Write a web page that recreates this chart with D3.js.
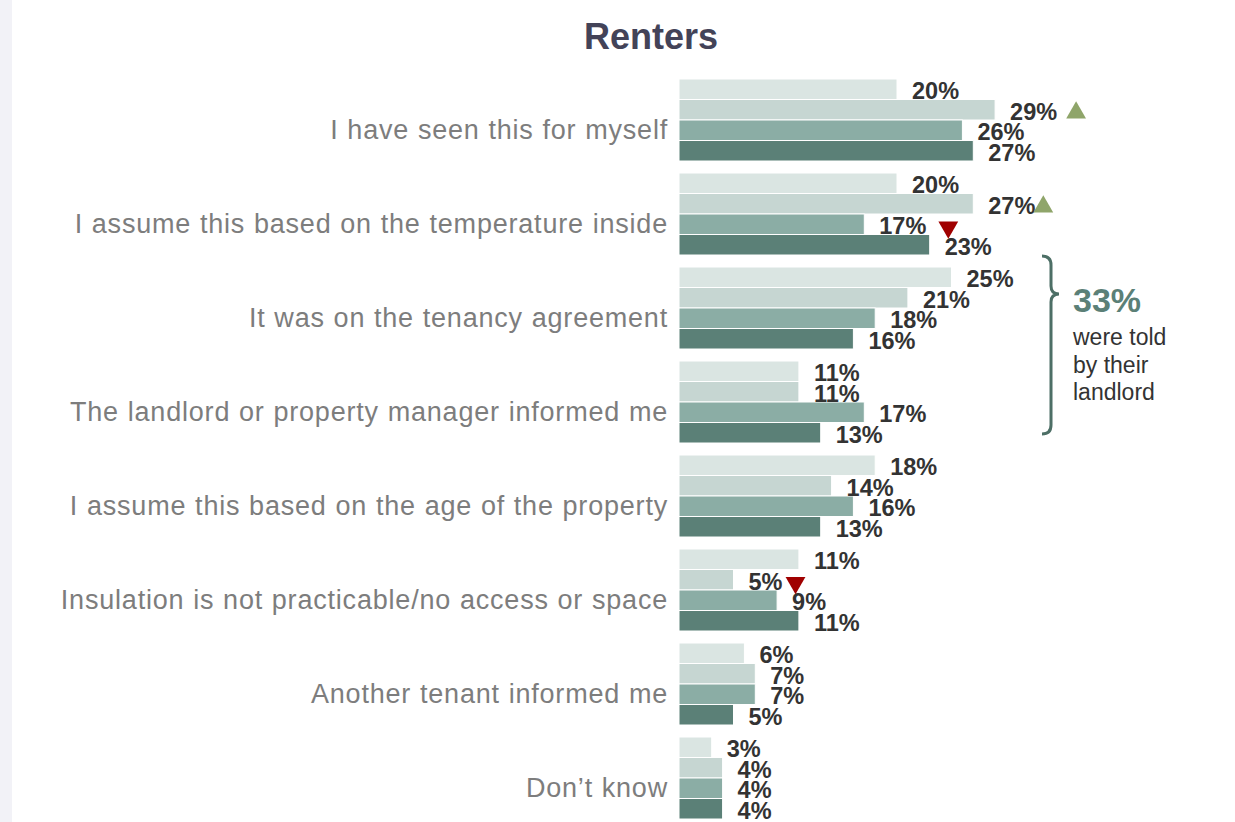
<!DOCTYPE html>
<html lang="en">
<head>
    <meta charset="UTF-8">
    <title>Renters</title>
    <script src="https://d3js.org/d3.v7.min.js"></script>

<style>
    body { margin: 0; background: #fff; }
    text { font-family: "Liberation Sans", Arial, sans-serif; }
    .cat { fill: #7d7d7d; font-size: 27px; letter-spacing: 0.8px; word-spacing: 0.5px; }
    .val { fill: #333; font-size: 23.5px; font-weight: bold; }
    .bar { stroke: #fff; stroke-width: 1px; }
</style>

</head>
<body>
    <svg id="canvas" width="1235" height="822"></svg>

    <script>
        var categories = [
            "I have seen this for myself",
            "I assume this based on the temperature inside",
            "It was on the tenancy agreement",
            "The landlord or property manager informed me",
            "I assume this based on the age of the property",
            "Insulation is not practicable/no access or space",
            "Another tenant informed me",
            "Don\u2019t know"
        ];
        var series1 = [20, 20, 25, 11, 18, 11, 6, 3];
        var series2 = [29, 27, 21, 11, 14, 5, 7, 4];
        var series3 = [26, 17, 18, 17, 16, 9, 7, 4];
        var series4 = [27, 23, 16, 13, 13, 11, 5, 4];
        var seriesColors = ["#dae5e2", "#c6d6d2", "#8badA5", "#5b8077"];

        // significance markers: category index, series index, direction, nudge
        var markers = [
            {cat: 0, s: 1, dir: "up",   dx: 71},
            {cat: 1, s: 1, dir: "up",   dx: 60},
            {cat: 1, s: 2, dir: "down", dx: 74},
            {cat: 5, s: 1, dir: "down", dx: 52}
        ];

        var allSeries = [series1, series2, series3, series4];

        var svg = d3.select('svg');

        // light stripe on the left edge
        svg.append("rect").attr("x", 0).attr("y", 0).attr("width", 12).attr("height", 822)
            .attr("fill", "#f2f2f7");

        svg.append("text")
            .attr("x", 651).attr("y", 49)
            .attr("text-anchor", "middle")
            .style("font-size", "36px").style("font-weight", "bold")
            .style("fill", "#434358")
            .text("Renters");

        var x = d3.scaleLinear().domain([0, 30]).range([679, 679 + 30 * 10.9]);
        var y = d3.scaleBand().domain(d3.range(categories.length))
            .range([79, 79 + 94 * categories.length - 12])
            .paddingInner(12 / 94).paddingOuter(0).align(0);
        var ys = d3.scaleBand().domain(d3.range(4)).range([0, y.bandwidth()]);

        var group = svg.selectAll(".grp")
            .data(categories)
            .enter()
            .append("g")
            .attr("class", "grp")
            .attr("transform", function(d, i) { return "translate(0," + y(i) + ")"; });

        group.append("text")
            .attr("class", "cat")
            .attr("x", 668)
            .attr("y", y.bandwidth() / 2 + 19)
            .attr("text-anchor", "end")
            .text(function(d) { return d; });

        group.each(function(d, i) {
            var g = d3.select(this);
            var rows = allSeries.map(function(s, k) { return {k: k, v: s[i]}; });

            g.selectAll("rect")
                .data(rows)
                .enter()
                .append("rect")
                .attr("class", "bar")
                .attr("x", x(0))
                .attr("y", function(r) { return ys(r.k); })
                .attr("width", function(r) { return x(r.v) - x(0); })
                .attr("height", ys.bandwidth())
                .attr("fill", function(r) { return seriesColors[r.k]; });

            g.selectAll("text.val")
                .data(rows)
                .enter()
                .append("text")
                .attr("class", "val")
                .attr("x", function(r) { return x(r.v) + 15; })
                .attr("y", function(r) { return ys(r.k) + ys.bandwidth() - 0.5; })
                .text(function(r) { return r.v + "%"; });
        });

        // triangles
        var tri = d3.symbol().type(d3.symbolTriangle).size(170);
        markers.forEach(function(m) {
            var v = allSeries[m.s][m.cat];
            var cx = x(v) + m.dx + 10;
            var cy = y(m.cat) + ys(m.s) + ys.bandwidth() / 2 + 3;
            svg.append("path")
                .attr("d", tri())
                .attr("transform", "translate(" + cx + "," + cy + ")" + (m.dir === "down" ? " rotate(180)" : ""))
                .attr("fill", m.dir === "up" ? "#8fa56a" : "#a00000");
        });

        // brace around tenancy agreement + landlord informed
        var braceTop = y(2) - 11, braceBot = y(3) + y.bandwidth() - 9;
        var bx = 1051, mid = braceTop + 38;
        svg.append("path")
            .attr("d", "M" + (bx - 9) + "," + braceTop +
                " Q" + bx + "," + braceTop + " " + bx + "," + (braceTop + 9) +
                " L" + bx + "," + (mid - 8) +
                " Q" + bx + "," + mid + " " + (bx + 8) + "," + mid +
                " Q" + bx + "," + mid + " " + bx + "," + (mid + 8) +
                " L" + bx + "," + (braceBot - 9) +
                " Q" + bx + "," + braceBot + " " + (bx - 9) + "," + braceBot)
            .attr("fill", "none")
            .attr("stroke", "#4d6f66")
            .attr("stroke-width", 3);

        svg.append("text")
            .attr("x", 1073).attr("y", 312)
            .style("font-size", "34px").style("font-weight", "bold")
            .style("fill", "#5b8077")
            .text("33%");

        svg.append("text")
            .attr("x", 1073).attr("y", 345)
            .style("font-size", "23px").style("fill", "#333")
            .selectAll("tspan")
            .data(["were told", "by their", "landlord"])
            .enter()
            .append("tspan")
            .attr("x", 1073)
            .attr("dy", function(d, i) { return i === 0 ? 0 : 27.5; })
            .text(function(d) { return d; });
    </script>
</body>
</html>
